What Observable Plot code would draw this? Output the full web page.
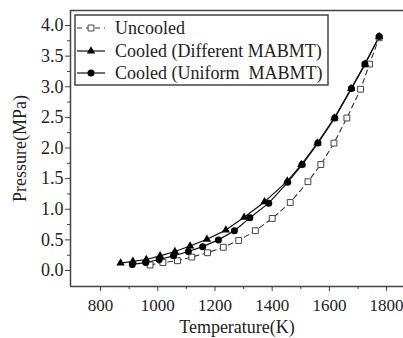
<!DOCTYPE html>
<html><head><meta charset="utf-8">
<script src="https://cdn.jsdelivr.net/npm/d3@7"></script>
<script src="https://cdn.jsdelivr.net/npm/@observablehq/plot@0.6"></script>
<style>
html,body{margin:0;padding:0;background:#fff;overflow:hidden;}
#wrap{position:relative;width:403px;height:338px;}
#legend{position:absolute;left:0;top:0;}
svg text{font-family:'Liberation Serif','DejaVu Serif',serif !important;}
</style></head>
<body><div id="wrap"></div>
<script>
const uncooledT = [973,1018,1069,1119,1174,1229,1283,1341,1400,1463,1525,1570,1616,1661,1709,1740,1774];
const uncooledP = [0.09,0.13,0.16,0.22,0.29,0.38,0.49,0.65,0.85,1.11,1.45,1.73,2.08,2.49,2.96,3.37,3.80];
const diffT = [870,913,960,1008,1060,1113,1172,1238,1302,1373,1453,1502,1558,1617,1676,1725,1774];
const diffP = [0.12,0.15,0.18,0.24,0.31,0.40,0.51,0.66,0.87,1.12,1.46,1.73,2.08,2.49,2.97,3.37,3.82];
const uniT = [911,958,1005,1055,1107,1157,1212,1268,1322,1388,1454,1505,1560,1619,1677,1724,1774];
const uniP = [0.10,0.13,0.18,0.24,0.31,0.39,0.50,0.65,0.86,1.10,1.44,1.73,2.08,2.49,2.97,3.37,3.82];
const seriesNames = ["Uncooled","Cooled (Different MABMT)","Cooled (Uniform  MABMT)"];
const xTicks = [800,1000,1200,1400,1600,1800];
const xMinor = [900,1100,1300,1500,1700];
const yTicks = [0,0.5,1,1.5,2,2.5,3,3.5,4];
const yMinor = [0.25,0.75,1.25,1.75,2.25,2.75,3.25,3.75];

const toRows = (T,P) => T.map((t,i)=>({T:t,P:P[i]}));
const unc = toRows(uncooledT, uncooledP);
const dif = toRows(diffT, diffP);
const uni = toRows(uniT, uniP);
const xDom = [695,1859], yDom = [-0.261,4.245];
const ink = "#222", frameC = "#444";
const font = "'Liberation Serif','DejaVu Serif',serif";

const chart = Plot.plot({
  width:403, height:338, marginLeft:70, marginRight:0, marginTop:10, marginBottom:52,
  style:{fontFamily:font, fontSize:"18px", color:ink, background:"#fff"},
  x:{domain:xDom}, y:{domain:yDom},
  marks:[
    Plot.ruleY([yDom[1]], {stroke:frameC, strokeWidth:1.5}),
    Plot.ruleX([xDom[0]], {stroke:frameC, strokeWidth:1.5}),
    Plot.ruleY([yDom[0]], {stroke:frameC, strokeWidth:1.5}),
    Plot.axisX({ticks:xTicks, tickSize:5, tickPadding:7, fontSize:17, stroke:frameC,
      tickFormat:d3.format("d"), label:null}),
    Plot.axisX({ticks:[], label:"Temperature(K)", fontSize:18, labelAnchor:"center", labelArrow:"none", labelOffset:46}),
    Plot.axisX({ticks:xMinor, tickSize:3, text:null, label:null, stroke:frameC}),
    Plot.axisY({ticks:yTicks, tickSize:5, tickPadding:2, fontSize:18, stroke:frameC,
      tickFormat:d3.format(".1f"),
      label:"Pressure(MPa)", labelAnchor:"center", labelArrow:"none", labelOffset:57}),
    Plot.axisY({ticks:yMinor, tickSize:3, text:null, label:null, stroke:frameC}),
    Plot.line(unc, {x:"T", y:"P", stroke:"#333", strokeWidth:1.1, strokeDasharray:"5,4"}),
    Plot.line(dif, {x:"T", y:"P", stroke:"#111", strokeWidth:1.2}),
    Plot.line(uni, {x:"T", y:"P", stroke:"#111", strokeWidth:1.2}),
    Plot.dot(unc, {x:"T", y:"P", symbol:"square", r:3.3, fill:"#fff", stroke:"#444", strokeWidth:1}),
    Plot.dot(dif, {x:"T", y:"P", symbol:"triangle", r:3.1, fill:"#000", stroke:"none"}),
    Plot.dot(uni, {x:"T", y:"P", symbol:"circle", r:3.5, fill:"#000", stroke:"none"})
  ]
});
const wrap = document.getElementById("wrap");
wrap.appendChild(chart);

// legend overlay
const lg = d3.select(wrap).append("svg").attr("id","legend").attr("width",403).attr("height",338);
const bx=75, by=15, bw=253, bh=70;
lg.append("rect").attr("x",bx).attr("y",by).attr("width",bw).attr("height",bh)
  .attr("fill","#fff").attr("stroke",frameC).attr("stroke-width",1.5);
const rowY = [28,51,73];
const sym = [d3.symbolSquare, d3.symbolTriangle, d3.symbolCircle];
const rr = [3.3,3.1,3.5];
seriesNames.forEach((name,i)=>{
  const y=rowY[i];
  lg.append("line").attr("x1",bx+2).attr("x2",bx+30).attr("y1",y).attr("y2",y)
    .attr("stroke", i===0?"#333":"#111").attr("stroke-width",1.2)
    .attr("stroke-dasharray", i===0?"5,4":null);
  lg.append("path").attr("transform",`translate(${bx+16},${y})`)
    .attr("d", d3.symbol(sym[i], Math.PI*rr[i]*rr[i])())
    .attr("fill", i===0?"#fff":"#000").attr("stroke", i===0?"#444":"none");
  lg.append("text").attr("x",bx+40).attr("y",y).attr("dy","0.35em")
    .attr("font-size",18).attr("fill",ink)
    .style("white-space","pre").text(name);
});
</script></body></html>
